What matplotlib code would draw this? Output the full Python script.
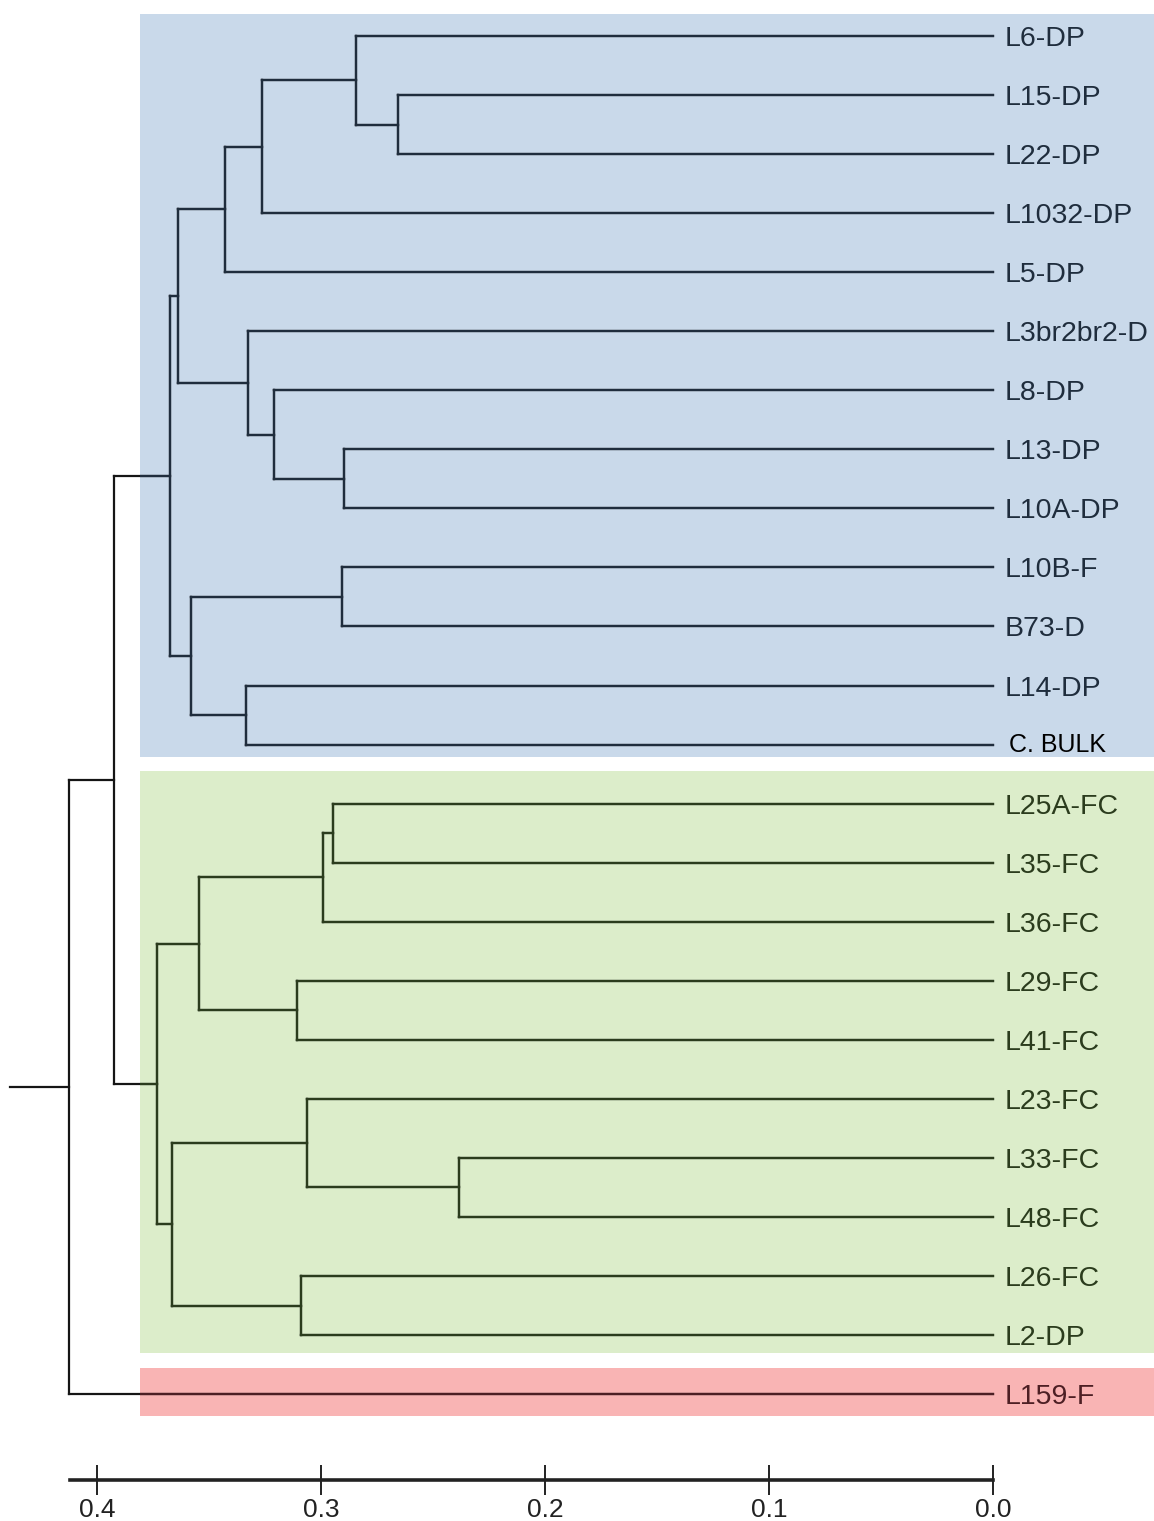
import matplotlib
matplotlib.use("Agg")
import matplotlib.pyplot as plt
from matplotlib.collections import LineCollection
from matplotlib.patches import Rectangle

# leaves, top to bottom
leaves = ["L6-DP", "L15-DP", "L22-DP", "L1032-DP", "L5-DP", "L3br2br2-D",
          "L8-DP", "L13-DP", "L10A-DP", "L10B-F", "B73-D", "L14-DP", "C. BULK",
          "L25A-FC", "L35-FC", "L36-FC", "L29-FC", "L41-FC", "L23-FC",
          "L33-FC", "L48-FC", "L26-FC", "L2-DP", "L159-F"]

# internal nodes: name -> (child1, child2, height)
nodes = {
    "A": ("L15-DP", "L22-DP", 0.2656),
    "B": ("L6-DP", "A", 0.2844),
    "C": ("B", "L1032-DP", 0.3263),
    "D": ("C", "L5-DP", 0.3429),
    "E": ("L13-DP", "L10A-DP", 0.2897),
    "F": ("L8-DP", "E", 0.3210),
    "G": ("L3br2br2-D", "F", 0.3326),
    "H": ("D", "G", 0.3638),
    "I": ("L10B-F", "B73-D", 0.2906),
    "J": ("L14-DP", "C. BULK", 0.3335),
    "K": ("I", "J", 0.3580),
    "L": ("H", "K", 0.3676),
    "M": ("L25A-FC", "L35-FC", 0.2946),
    "N": ("M", "L36-FC", 0.2991),
    "O": ("L29-FC", "L41-FC", 0.3107),
    "P": ("N", "O", 0.3545),
    "Q": ("L33-FC", "L48-FC", 0.2384),
    "R": ("L23-FC", "Q", 0.3063),
    "S": ("L26-FC", "L2-DP", 0.3089),
    "T": ("R", "S", 0.3665),
    "U": ("P", "T", 0.3732),
    "V": ("L", "U", 0.3924),
    "W": ("V", "L159-F", 0.4125),
}
root = "W"
root_stub = 0.4388

# coloured groups: first leaf, last leaf, fill, ink
groups = [
    ("L6-DP", "C. BULK", "#c9d9ea", "#1f2d3d"),
    ("L25A-FC", "L2-DP", "#dcedca", "#2b3c1d"),
    ("L159-F", "L159-F", "#f9b4b4", "#4d1f24"),
]

scale_ticks = [0.4, 0.3, 0.2, 0.1, 0.0]
scale_start = 0.412

# figure geometry (pixels)
W_PX, H_PX = 1154, 1521
X0_PX, PX_PER_UNIT = 993, 2240     # x pixel of 0.0, pixels per unit distance
Y0_PX, PX_PER_LEAF = 36, 59.05

fig = plt.figure(figsize=(W_PX / 100, H_PX / 100), dpi=100)
ax = fig.add_axes([0, 0, 1, 1])
ax.set_xlim(X0_PX / PX_PER_UNIT, (X0_PX - W_PX) / PX_PER_UNIT)
ax.set_ylim((H_PX - Y0_PX) / PX_PER_LEAF, -Y0_PX / PX_PER_LEAF)
ax.axis("off")

ypos = {name: i for i, name in enumerate(leaves)}
height = {name: 0.0 for name in leaves}


def place(n):
    if n in ypos:
        return ypos[n]
    a, b, h = nodes[n]
    ypos[n] = (place(a) + place(b)) / 2
    height[n] = h
    return ypos[n]


place(root)

segs = []
for n, (a, b, h) in nodes.items():
    segs.append([(h, ypos[a]), (h, ypos[b])])
    for c in (a, b):
        segs.append([(h, ypos[c]), (height[c], ypos[c])])
segs.append([(root_stub, ypos[root]), (height[root], ypos[root])])

# background boxes
rect_left = 0.3808
rect_right = ax.get_xlim()[1]
pads = [(-0.37, 0.21), (-0.55, 0.30), (-0.44, 0.37)]
rects = []
for (first, last, fill, ink), (p0, p1) in zip(groups, pads):
    y0 = leaves.index(first) + p0
    y1 = leaves.index(last) + p1
    r = Rectangle((rect_left, y0), rect_right - rect_left, y1 - y0,
                  facecolor=fill, edgecolor="none", zorder=0)
    ax.add_patch(r)
    rects.append(r)

ax.add_collection(LineCollection(segs, colors="#151515", linewidths=1.6,
                                 zorder=2, capstyle="projecting"))
for r, g in zip(rects, groups):
    lc = LineCollection(segs, colors=g[3], linewidths=1.6, zorder=3,
                        capstyle="projecting")
    ax.add_collection(lc)
    lc.set_clip_path(r)

# leaf labels
label_off = 12 / PX_PER_UNIT
for i, name in enumerate(leaves):
    color = "#151515"
    for first, last, fill, ink in groups:
        if leaves.index(first) <= i <= leaves.index(last):
            color = ink
    if name == "C. BULK":
        ax.text(-label_off - 4 / PX_PER_UNIT, i, name, fontsize=18,
                family=["Liberation Sans", "DejaVu Sans"], color="black",
                va="center", ha="left")
    else:
        ax.text(-label_off, i + 0.05, name, fontsize=20.5,
                family=["Liberation Sans", "DejaVu Sans"], color=color,
                va="center", ha="left")

# scale bar
bar_y = 1480
sax = fig.add_axes([0, 1 - bar_y / H_PX, 1, 0.0001])
sax.set_xlim(ax.get_xlim())
sax.set_yticks([])
for s in ("top", "left", "right"):
    sax.spines[s].set_visible(False)
sax.spines["bottom"].set_bounds(scale_start, 0.0)
sax.spines["bottom"].set_linewidth(2.6)
sax.spines["bottom"].set_color("#222222")
sax.patch.set_alpha(0)
sax.set_xticks(scale_ticks)
sax.set_xticklabels([f"{t:.1f}" for t in scale_ticks])
sax.tick_params(axis="x", direction="inout", length=22, width=1.4,
                color="#222222", pad=2, labelsize=19, labelcolor="#222222")
for lbl in sax.get_xticklabels():
    lbl.set_family(["Liberation Sans Narrow", "Liberation Sans", "DejaVu Sans"])

fig.savefig("out.png", dpi=100)
